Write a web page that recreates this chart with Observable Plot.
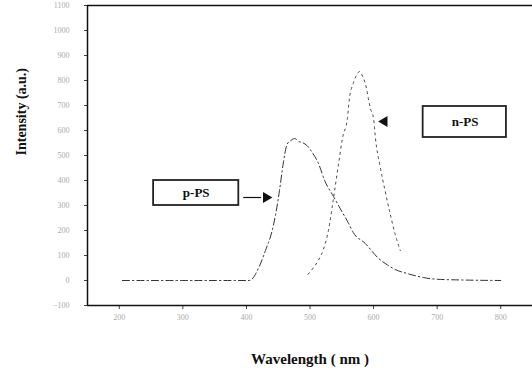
<!DOCTYPE html>
<html>
<head>
<meta charset="utf-8">
<script src="https://cdn.jsdelivr.net/npm/d3@7"></script>
<script src="https://cdn.jsdelivr.net/npm/@observablehq/plot@0.6"></script>
<style>
  html, body { margin: 0; padding: 0; background: #fff; }
  #chart { width: 532px; height: 374px; overflow: hidden; }
  #chart svg text { font-family: 'Liberation Serif', 'DejaVu Serif', serif; }
</style>
</head>
<body>
<div id="chart"></div>
<script>
// p-PS spectrum (wavelength nm, intensity a.u.)
const ppsWavelength = [205, 300, 405, 420, 430, 440, 446, 452, 458, 464, 470, 476, 482, 488, 495, 504, 513, 523, 537, 551, 560, 568, 587, 608, 622, 634, 653, 678, 700, 740, 800];
const ppsIntensity  = [0, 0, 0, 55, 120, 195, 265, 360, 470, 545, 560, 568, 556, 552, 540, 510, 470, 400, 336, 272, 232, 192, 148, 88, 62, 44, 28, 12, 5, 2, 0];
// n-PS spectrum
const npsWavelength = [497, 505, 513, 521, 529, 537, 545, 551, 559, 562, 568, 573, 578, 583, 587, 595, 600, 603, 610, 618, 626, 634, 642];
const npsIntensity  = [25, 50, 80, 124, 200, 330, 468, 568, 652, 728, 788, 820, 836, 815, 788, 688, 648, 568, 460, 360, 268, 185, 120];

const xTicks = [200, 300, 400, 500, 600, 700, 800];
const yTicks = [-100, 0, 100, 200, 300, 400, 500, 600, 700, 800, 900, 1000, 1100];

// annotations (in data units)
const labelNames = ["p-PS", "n-PS"];
const labelX = [321, 744];
const labelY = [350, 634];
const boxX1 = [254, 678], boxX2 = [388, 809];
const boxY1 = [300, 572], boxY2 = [400, 696];
const arrowX1 = [395], arrowX2 = [423], arrowY = [332];
const headX = [431, 617], headY = [332, 636], headRotate = [90, -90];

const pps = ppsWavelength.map((w, i) => ({w, v: ppsIntensity[i]}));
const nps = npsWavelength.map((w, i) => ({w, v: npsIntensity[i]}));
const boxes = labelNames.map((n, i) => ({n, x: labelX[i], y: labelY[i], x1: boxX1[i], x2: boxX2[i], y1: boxY1[i], y2: boxY2[i]}));
const heads = headX.map((x, i) => ({x, y: headY[i], r: headRotate[i]}));
const arrows = arrowX1.map((x1, i) => ({x1, x2: arrowX2[i], y: arrowY[i]}));

const serif = "'Liberation Serif', 'DejaVu Serif', serif";

const chart = Plot.plot({
  width: 532,
  height: 374,
  marginLeft: 87,
  marginRight: 0,
  marginTop: 5,
  marginBottom: 69,
  style: {fontFamily: serif, background: "#fff"},
  x: {domain: [150, 850]},
  y: {domain: [-100, 1100]},
  marks: [
    Plot.axisX({ticks: xTicks, tickFormat: d3.format("d"), tickSize: 4, tickPadding: 5, fontSize: 8, fill: "#aaa", stroke: "#444", label: null}),
    Plot.axisY({ticks: yTicks, tickFormat: d3.format("d"), tickSize: 3, tickPadding: 15, fontSize: 8, fill: "#aaa", stroke: "#444", label: null}),
    Plot.ruleX([150], {stroke: "#111", strokeWidth: 1.5}),
    Plot.ruleY([-100, 1100], {stroke: "#111", strokeWidth: 1.5}),
    Plot.line(pps, {x: "w", y: "v", curve: "monotone-x", stroke: "#333", strokeWidth: 1, strokeDasharray: "7,3,1.5,3"}),
    Plot.line(nps, {x: "w", y: "v", curve: "monotone-x", stroke: "#444", strokeWidth: 1, strokeDasharray: "2,4"}),
    Plot.rect(boxes, {x1: "x1", x2: "x2", y1: "y1", y2: "y2", fill: "#fff", stroke: "#222", strokeWidth: 1.8}),
    Plot.text(boxes, {x: "x", y: "y", text: "n", fontSize: 13, fontWeight: "bold", fill: "#111", fontFamily: serif}),
    Plot.link(arrows, {x1: "x1", x2: "x2", y1: "y", y2: "y", stroke: "#111", strokeWidth: 1.2}),
    Plot.dot(heads, {x: "x", y: "y", rotate: "r", symbol: "triangle", r: 4, fill: "#111", stroke: "none"}),
    Plot.text(["Wavelength ( nm )"], {frameAnchor: "bottom", dy: 58, fontSize: 15, fontWeight: "bold", fill: "#111", fontFamily: serif}),
    Plot.text(["Intensity (a.u.)"], {frameAnchor: "left", dx: -66, rotate: -90, fontSize: 14, fontWeight: "bold", fill: "#111", fontFamily: serif})
  ]
});
document.getElementById("chart").appendChild(chart);
</script>
</body>
</html>
